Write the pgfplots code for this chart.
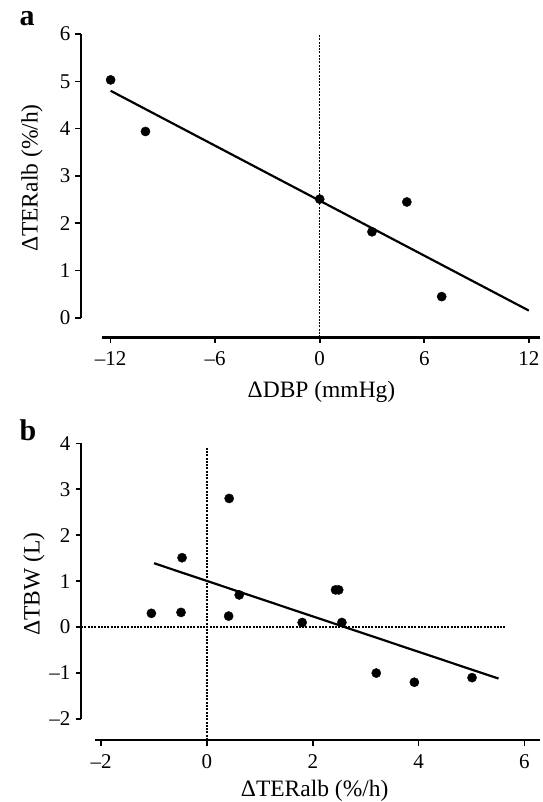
\documentclass[border=0pt]{standalone}
\usepackage{fontspec}
\setmainfont{Liberation Serif}
\usepackage{pgfplots}
\pgfplotsset{compat=1.18}
\begin{document}
\begin{tikzpicture}
\useasboundingbox (0,0) rectangle (542pt,-802pt);
\pgfplotsset{
  myaxis/.style={
    scale only axis,
    clip=false,
    axis line style={draw=none},
    tick align=outside,
    xtick pos=left, ytick pos=left,
    major tick length=5.5pt,
    every tick/.style={black, line width=1.6pt},
    tick label style={font=\fontsize{21}{23}\selectfont, inner sep=0pt},
    yticklabel shift=5pt,
    xticklabel shift=8.5pt,
    label style={font=\fontsize{23.5}{26}\selectfont},
    /pgf/number format/assume math mode=true,
  },
  dots/.style={only marks, mark=*, mark size=4.6pt, black, mark options={fill=black}},
  fit/.style={black, line width=2.2pt, no marks},
  ref/.style={black, line width=1.5pt, dash pattern=on 2pt off 1.3pt, no marks},
}
% ---------- panel a ----------
\begin{axis}[myaxis,
  at={(81pt,-337.3pt)}, anchor=south west,
  width=459.3pt, height=303.3pt,
  xmin=-13.70, xmax=12.66, ymin=-0.41, ymax=6,
  xtick={-12,-6,0,6,12},
  xticklabels={\textendash12,\textendash6,0,6,12},
  ytick={0,1,2,3,4,5,6},
  xlabel={ΔDBP (mmHg)},
  ylabel={ΔTERalb (\%/h)},
  xlabel style={at={(axis description cs:0.5236,-0.200)}, anchor=base},
  ylabel style={at={(axis description cs:-0.1067,0.525)}, anchor=center},
]
\draw[line width=2.4pt] (axis cs:-13.70,0) -- (axis cs:-13.70,6);
\draw[line width=2.4pt] (axis cs:-12.52,-0.41) -- (axis cs:12.66,-0.41);
\addplot[ref] coordinates {(0,-0.41) (0,6)};
\addplot[fit] coordinates {(-12,4.80) (12,0.155)};
\addplot[dots] coordinates {
  (-12,5.03) (-10,3.94) (0,2.51) (3,1.82) (5,2.45) (7,0.45)
};
\end{axis}
% ---------- panel b ----------
\begin{axis}[myaxis,
  at={(81pt,-740pt)}, anchor=south west,
  width=459.3pt, height=296.7pt,
  xmin=-2.38, xmax=6.30, ymin=-2.457, ymax=4,
  xtick={-2,0,2,4,6},
  xticklabels={\textendash2,0,2,4,6},
  ytick={-2,-1,0,1,2,3,4},
  yticklabels={\textendash2,\textendash1,0,1,2,3,4},
  xlabel={ΔTERalb (\%/h)},
  ylabel={ΔTBW (L)},
  xlabel style={at={(axis description cs:0.5088,-0.192)}, anchor=base},
  ylabel style={at={(axis description cs:-0.1023,0.526)}, anchor=center},
]
\draw[line width=2.4pt] (axis cs:-2.38,-2) -- (axis cs:-2.38,4);
\draw[line width=2.4pt] (axis cs:-2.11,-2.457) -- (axis cs:6.30,-2.457);
\addplot[ref] coordinates {(-2.38,0) (5.66,0)};
\addplot[ref] coordinates {(0,-2.457) (0,3.93)};
\addplot[fit] coordinates {(-1.0,1.39) (5.51,-1.12)};
\addplot[dots] coordinates {
  (-1.05,0.30) (-0.47,1.51) (-0.49,0.32) (0.42,2.80) (0.41,0.24)
  (0.61,0.70) (1.80,0.10) (2.43,0.81) (2.49,0.81) (2.55,0.10)
  (3.20,-1.00) (3.92,-1.20) (5.01,-1.10)
};
\end{axis}
\node[anchor=base west, font=\fontsize{30}{32}\selectfont\bfseries] at (16pt,-26pt) {a};
\node[anchor=base west, font=\fontsize{30}{32}\selectfont\bfseries] at (16pt,-440pt) {b};
\end{tikzpicture}
\end{document}
